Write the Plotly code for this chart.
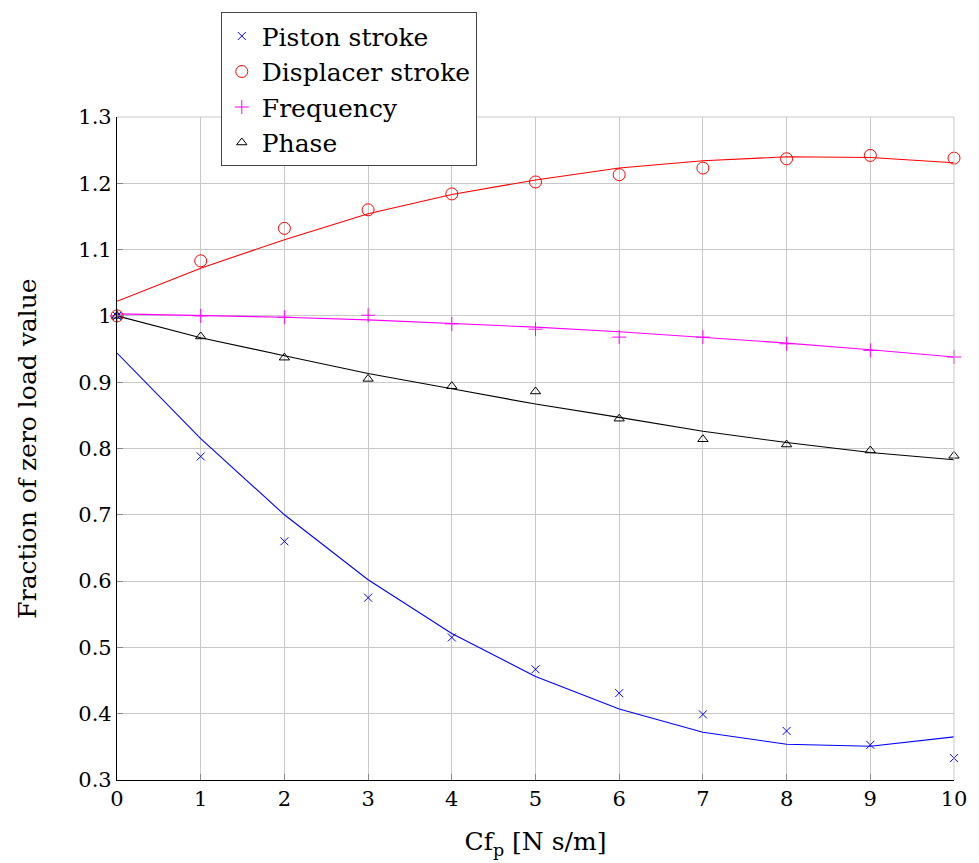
import plotly.graph_objects as go

x = [0, 1, 2, 3, 4, 5, 6, 7, 8, 9, 10]

piston_pts = [1.0, 0.788, 0.660, 0.575, 0.515, 0.467, 0.431, 0.399, 0.374, 0.353, 0.333]
piston_fit = [0.944, 0.815, 0.700, 0.602, 0.521, 0.456, 0.407, 0.372, 0.354, 0.351, 0.365]

displacer_pts = [1.0, 1.083, 1.132, 1.160, 1.184, 1.202, 1.213, 1.223, 1.237, 1.242, 1.238]
displacer_fit = [1.022, 1.072, 1.115, 1.154, 1.183, 1.205, 1.223, 1.234, 1.240, 1.239, 1.231]

freq_pts = [1.0, 1.0, 0.998, 1.001, 0.988, 0.980, 0.968, 0.968, 0.958, 0.948, 0.938]
freq_fit = [1.003, 1.001, 0.998, 0.994, 0.989, 0.983, 0.976, 0.968, 0.959, 0.949, 0.938]

phase_pts = [1.0, 0.969, 0.937, 0.905, 0.894, 0.886, 0.845, 0.814, 0.806, 0.797, 0.789]
phase_fit = [1.0, 0.967, 0.940, 0.913, 0.890, 0.867, 0.847, 0.826, 0.809, 0.794, 0.783]

y_tickvals = [0.3, 0.4, 0.5, 0.6, 0.7, 0.8, 0.9, 1.0, 1.1, 1.2, 1.3]
y_ticktext = ["0.3", "0.4", "0.5", "0.6", "0.7", "0.8", "0.9", "1", "1.1", "1.2", "1.3"]

series = [
    ("Piston stroke", piston_pts, piston_fit, "blue", "x-thin-open", 8),
    ("Displacer stroke", displacer_pts, displacer_fit, "red", "circle-open", 12),
    ("Frequency", freq_pts, freq_fit, "magenta", "cross-thin-open", 10),
    ("Phase", phase_pts, phase_fit, "black", "triangle-up-open", 9),
]

FONT = "DejaVu Serif"

fig = go.Figure()
for name, pts, fit, col, sym, sz in series:
    fig.add_trace(go.Scatter(x=x, y=fit, mode="lines", line=dict(color=col, width=1.1),
                             showlegend=False, hoverinfo="skip"))
for name, pts, fit, col, sym, sz in series:
    fig.add_trace(go.Scatter(x=x, y=pts, mode="markers", name=name, cliponaxis=False,
                             marker=dict(symbol=sym, size=sz, color=col,
                                         line=dict(color=col, width=1))))

fig.update_layout(
    width=979, height=863,
    margin=dict(l=117, r=17, t=115, b=82),
    paper_bgcolor="white", plot_bgcolor="white",
    font=dict(family=FONT, size=21, color="black"),
    legend=dict(x=0.124, y=1.158, xanchor="left", yanchor="top",
                bordercolor="#444", borderwidth=1, bgcolor="white",
                font=dict(family=FONT, size=25), itemwidth=30,
                traceorder="normal"),
    showlegend=True,
)
fig.update_xaxes(range=[0, 10], tickvals=x, ticks="inside", ticklen=6, tickcolor="#888",
                 showgrid=True, gridcolor="#c8c8c8", gridwidth=1,
                 showline=True, linecolor="black", linewidth=1.2, mirror=False,
                 zeroline=False,
                 title=dict(text="Cf<sub>p</sub> [N s/m]", font=dict(family=FONT, size=25), standoff=22),
                 tickfont=dict(family=FONT, size=21))
fig.update_yaxes(range=[0.3, 1.3], tickvals=y_tickvals, ticktext=y_ticktext,
                 ticks="inside", ticklen=6, tickcolor="#888",
                 showgrid=True, gridcolor="#c8c8c8", gridwidth=1,
                 showline=True, linecolor="black", linewidth=1.2,
                 zeroline=False,
                 title=dict(text="Fraction of zero load value", font=dict(family=FONT, size=25), standoff=34),
                 tickfont=dict(family=FONT, size=21))
fig.add_shape(type="line", xref="paper", yref="paper", x0=0, x1=1, y0=1, y1=1,
              line=dict(color="#c8c8c8", width=1))
fig.add_shape(type="line", xref="paper", yref="paper", x0=1, x1=1, y0=0, y1=1,
              line=dict(color="#c8c8c8", width=1))

fig.write_html("out.html")
